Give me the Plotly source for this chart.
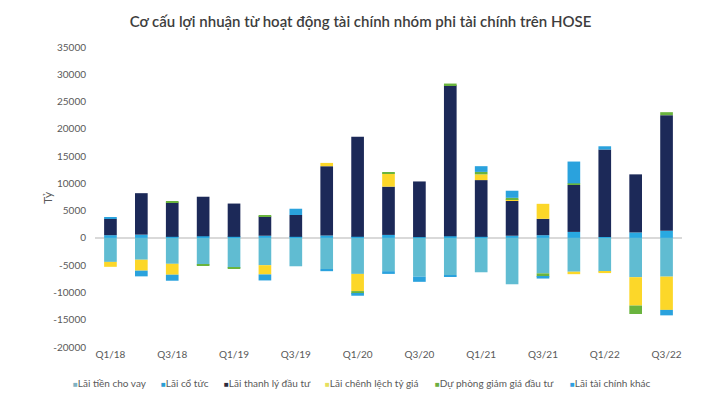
import plotly.graph_objects as go

title = "Cơ cấu lợi nhuận từ hoạt động tài chính nhóm phi tài chính trên HOSE"
y_title = "Tỷ"

quarters = ["Q1/18", "Q2/18", "Q3/18", "Q4/18", "Q1/19", "Q2/19", "Q3/19", "Q4/19",
            "Q1/20", "Q2/20", "Q3/20", "Q4/20", "Q1/21", "Q2/21", "Q3/21", "Q4/21",
            "Q1/22", "Q2/22", "Q3/22"]
x_tick_labels = quarters[::2]

lai_tien_cho_vay = [-4400, -4000, -4750, -4900, -5500, -5000, -5200, -5700, -6600, -6100,
                    -7100, -6800, -6300, -8500, -6500, -6200, -6200, -7200, -7100]
lai_co_tuc = [500, 600, 200, 300, 200, 400, 200, 450, 200, 550,
              150, 300, 200, 400, 500, 1100, 150, 1000, 1300]
lai_thanh_ly = [3000, 7600, 6300, 7250, 6100, 3550, 4000, 12700, 18350, 8850,
                10200, 27700, 10400, 6400, 3000, 8600, 16050, 10650, 21200]
lai_chenh_lech = [-900, -2000, -2000, 0, 0, -1700, 0, 600, -3150, 2450,
                  0, 0, 1050, 300, 2750, -450, -250, -5200, -6100]
du_phong = [0, 0, 150, -250, -200, 150, 0, 0, -500, 200,
            0, 300, 450, 250, -600, 300, 0, -1550, 550]
lai_khac = [200, -1050, -1100, 0, 0, -1100, 1150, -400, -350, -500,
            -950, -250, 1050, 1300, -350, 4000, 600, 0, -1000]

series_names = ["Lãi tiền cho vay", "Lãi cổ tức", "Lãi thanh lý đầu tư",
                "Lãi chênh lệch tỷ giá", "Dự phòng giảm giá đầu tư", "Lãi tài chính khác"]
series_values = [lai_tien_cho_vay, lai_co_tuc, lai_thanh_ly, lai_chenh_lech, du_phong, lai_khac]
colors = ["#60bcd2", "#29a9e1", "#1c2958", "#fcd729", "#6ab43e", "#2aa2dd"]
legend_colors = ["#7fb2c2", "#2a9fd4", "#2b2d3d", "#e6df5e", "#6cae3f", "#2e9fe0"]

y_tick_vals = [-20000, -15000, -10000, -5000, 0, 5000, 10000, 15000, 20000, 25000, 30000, 35000]
y_tick_labels = ["-20000", "-15000", "-10000", "-5000", "0", "5000", "10000",
                 "15000", "20000", "25000", "30000", "35000"]

FONT = "Lato"
W, H = 711, 417
ML, MR, MT, MB = 95, 29, 47, 70
PW, PH = W - ML - MR, H - MT - MB

fig = go.Figure()
for name, vals, col in zip(series_names, series_values, colors):
    fig.add_trace(go.Bar(x=quarters, y=vals, name=name, marker_color=col,
                         marker_line_width=0, showlegend=False))

# legend drawn as a compact row of text items (pixel positions converted to paper)
legend_px = [71, 159, 222, 323, 433, 568]
legend_py = 383
annotations = []
for name, col, lx in zip(series_names, legend_colors, legend_px):
    annotations.append(dict(
        x=(lx - ML) / PW, y=(H - MB - legend_py) / PH, xref="paper", yref="paper",
        text=f'<span style="color:{col};font-size:8px">■</span>{name}',
        showarrow=False, xanchor="left", yanchor="middle",
        font=dict(family=FONT, size=10, color="#595959")))

# y-axis title
annotations.append(dict(
    x=(47 - ML) / PW, y=(H - MB - 198) / PH, xref="paper", yref="paper",
    text=y_title, textangle=-90, showarrow=False, xanchor="center", yanchor="middle",
    font=dict(family=FONT, size=12, color="#595959")))

fig.update_layout(
    width=W, height=H,
    margin=dict(l=ML, r=MR, t=MT, b=MB),
    paper_bgcolor="white", plot_bgcolor="white",
    barmode="relative", bargap=0.59,
    title=dict(text=title, x=0.507, xanchor="center", y=1 - 22 / H, yanchor="middle",
               yref="container",
               font=dict(family=FONT, size=15, color="#3d3d3d", weight=600)),
    font=dict(family=FONT, size=10, color="#595959"),
    xaxis=dict(type="category", tickmode="array", tickvals=x_tick_labels,
               ticktext=x_tick_labels, showgrid=False, showline=False, ticks="",
               zeroline=False, tickfont=dict(family=FONT, size=10, color="#595959")),
    yaxis=dict(range=[-20000, 35000], tickmode="array", tickvals=y_tick_vals,
               ticktext=y_tick_labels, showgrid=False, showline=False, ticks="",
               zeroline=True, zerolinecolor="#d9d9d9", zerolinewidth=1.5,
               ticklabelstandoff=8,
               tickfont=dict(family=FONT, size=10, color="#595959")),
    annotations=annotations,
)

fig.write_html("out.html")
